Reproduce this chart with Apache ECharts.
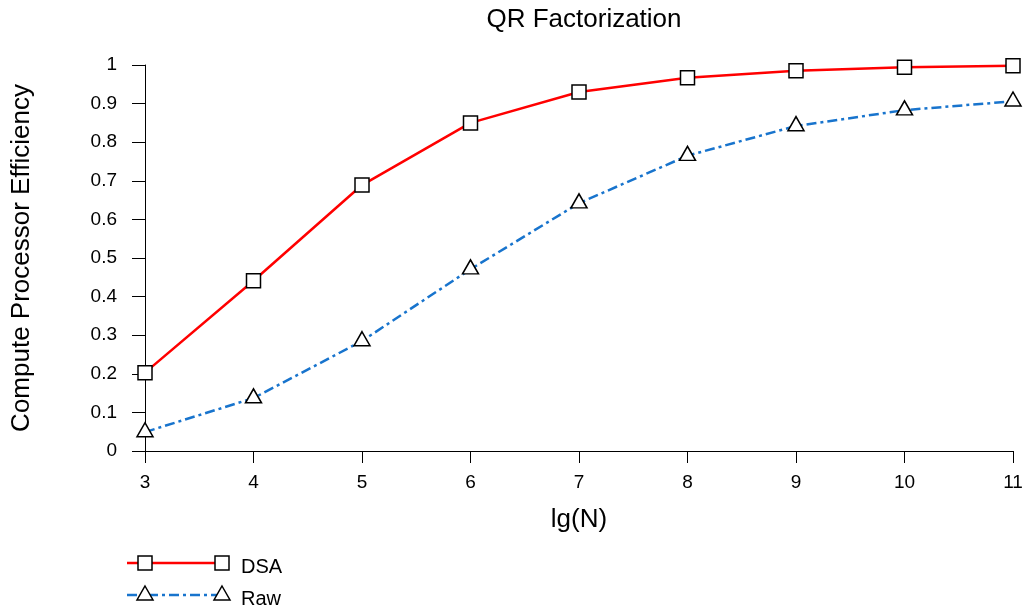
<!DOCTYPE html>
<html>
<head>
<meta charset="utf-8">
<script src="https://cdn.jsdelivr.net/npm/echarts@6/dist/echarts.min.js"></script>
<style>
  html, body { margin: 0; padding: 0; background: #fff; }
  #chart { width: 1026px; height: 611px; }
</style>
</head>
<body>
<div id="chart"></div>
<script>
// Problem size exponents (lg N)
const lgN = [3, 4, 5, 6, 7, 8, 9, 10, 11];
// Compute processor efficiency per method
const dsa = [0.203, 0.441, 0.689, 0.850, 0.930, 0.967, 0.985, 0.994, 0.998];
const raw = [0.049, 0.137, 0.285, 0.471, 0.642, 0.765, 0.842, 0.883, 0.906];
// Y tick values
const yTicks = [0, 0.1, 0.2, 0.3, 0.4, 0.5, 0.6, 0.7, 0.8, 0.9, 1];

const FONT = 'Liberation Sans, Arial, sans-serif';
const RED = '#ff0000';
const BLUE = '#1874cd';
const DASHDOT = [10, 4, 3, 4];

const chart = echarts.init(document.getElementById('chart'));

function pairs(xs, ys) { return xs.map((x, i) => [x, ys[i]]); }

// Legend: line with a marker at each end, followed by the label
function legendRow(y, color, dash, marker, label) {
  const children = [
    { type: 'line', shape: { x1: 127, y1: y, x2: 222, y2: y },
      style: { stroke: color, lineWidth: 2.5, lineDash: dash } }
  ];
  [145, 222].forEach(cx => {
    if (marker === 'square') {
      children.push({ type: 'rect', shape: { x: cx - 7, y: y - 7, width: 14, height: 14 },
        style: { fill: '#fff', stroke: '#000', lineWidth: 1.5 } });
    } else {
      children.push({ type: 'polygon', shape: { points: [[cx, y - 9], [cx + 8, y + 5], [cx - 8, y + 5]] },
        style: { fill: '#fff', stroke: '#000', lineWidth: 1.5 } });
    }
  });
  children.push({ type: 'text', x: 241, y: y + 4,
    style: { text: label, fill: '#000', font: '20px ' + FONT, textVerticalAlign: 'middle' } });
  return { type: 'group', children };
}

chart.setOption({
  backgroundColor: '#fff',
  animation: false,
  title: {
    text: 'QR Factorization',
    left: 579, top: 2, textAlign: 'center',
    textStyle: { fontFamily: FONT, fontSize: 26, fontWeight: 'normal', color: '#000' }
  },
  grid: { left: 145, right: 13, top: 65, bottom: 160, containLabel: false },
  xAxis: {
    type: 'value', min: 3, max: 11, interval: 1,
    name: 'lg(N)', nameLocation: 'middle', nameGap: 56,
    nameTextStyle: { fontFamily: FONT, fontSize: 26, color: '#000' },
    axisLine: { show: true, onZero: false, lineStyle: { color: '#000', width: 1 } },
    axisTick: { show: true, inside: false, length: 12, lineStyle: { color: '#000', width: 1 } },
    axisLabel: { margin: 22, fontFamily: FONT, fontSize: 19, color: '#000' },
    splitLine: { show: false }
  },
  yAxis: {
    type: 'value', min: 0, max: 1, interval: 0.1,
    name: 'Compute Processor Efficiency', nameLocation: 'middle', nameGap: 110, nameRotate: 90,
    nameTextStyle: { fontFamily: FONT, fontSize: 26, color: '#000' },
    axisLine: { show: true, onZero: false, lineStyle: { color: '#000', width: 1 } },
    axisTick: { show: true, inside: false, length: 13, lineStyle: { color: '#000', width: 1 } },
    axisLabel: {
      margin: 28, fontFamily: FONT, fontSize: 19, color: '#000',
      formatter: v => yTicks.includes(+v.toFixed(1)) ? String(+v.toFixed(1)) : ''
    },
    splitLine: { show: false }
  },
  series: [
    {
      name: 'DSA', type: 'line', data: pairs(lgN, dsa),
      lineStyle: { color: RED, width: 2.5 },
      symbol: 'rect', symbolSize: 14,
      itemStyle: { color: '#fff', borderColor: '#000', borderWidth: 1.5 },
      z: 3
    },
    {
      name: 'Raw', type: 'line', data: pairs(lgN, raw),
      lineStyle: { color: BLUE, width: 2.5, type: DASHDOT },
      symbol: 'triangle', symbolSize: [16, 14], symbolOffset: [0, -2.3],
      itemStyle: { color: '#fff', borderColor: '#000', borderWidth: 1.5 },
      z: 3
    }
  ],
  graphic: [
    legendRow(563, RED, null, 'square', 'DSA'),
    legendRow(595, BLUE, DASHDOT, 'triangle', 'Raw')
  ]
});
</script>
</body>
</html>
